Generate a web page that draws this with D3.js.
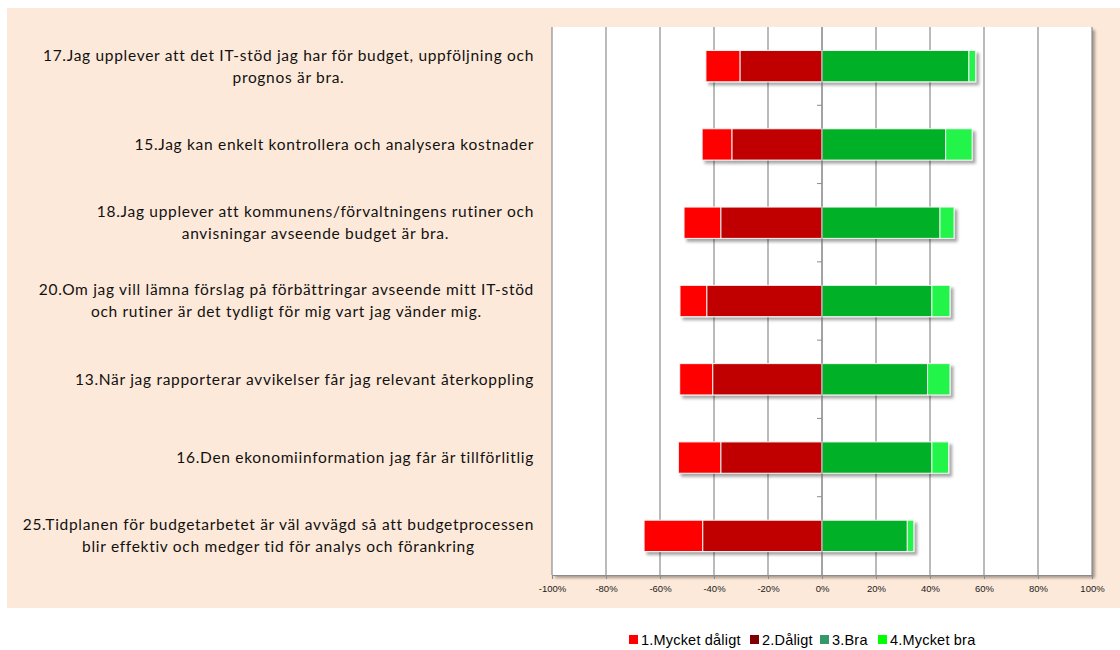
<!DOCTYPE html>
<html>
<head>
<meta charset="utf-8">
<script src="https://cdn.jsdelivr.net/npm/d3@7"></script>
<style>
  body { margin: 0; background: #fff; }
  svg { display: block; }
</style>
</head>
<body>
<script>
var width = 1120;
var height = 650;

// questions, top to bottom (lines as shown in the chart)
var categories = [
  ["17.Jag upplever att det IT-stöd jag har för budget, uppföljning och", "prognos är bra."],
  ["15.Jag kan enkelt kontrollera och analysera kostnader"],
  ["18.Jag upplever att kommunens/förvaltningens rutiner och", "anvisningar avseende budget är bra."],
  ["20.Om jag vill lämna förslag på förbättringar avseende mitt IT-stöd", "och rutiner är det tydligt för mig vart jag vänder mig."],
  ["13.När jag rapporterar avvikelser får jag relevant återkoppling"],
  ["16.Den ekonomiinformation jag får är tillförlitlig"],
  ["25.Tidplanen för budgetarbetet är väl avvägd så att budgetprocessen", "blir effektiv och medger tid för analys och förankring"]
];

var seriesNames = ["1.Mycket dåligt", "2.Dåligt", "3.Bra", "4.Mycket bra"];
var mycketDaligt = [12.6, 11.0, 13.6, 9.9, 12.2, 15.7, 21.7];
var daligt       = [30.4, 33.4, 37.5, 42.7, 40.5, 37.5, 44.2];
var bra          = [54.4, 45.8, 43.7, 40.7, 39.1, 40.7, 31.6];
var mycketBra    = [2.5, 9.8, 5.2, 6.7, 8.3, 6.2, 2.4];

var xTicks = [-100, -80, -60, -40, -20, 0, 20, 40, 60, 80, 100];

var barColors = ["#ff0000", "#c00000", "#06b025", "#22f44a"];
var legendColors = ["#ff0000", "#800000", "#339966", "#00ff00"];

var rows = categories.map(function(c, i) {
  return {
    id: i,
    lines: c,
    "1.Mycket dåligt": -mycketDaligt[i],
    "2.Dåligt": -daligt[i],
    "3.Bra": bra[i],
    "4.Mycket bra": mycketBra[i]
  };
});

var svg = d3.select("body").append("svg")
    .attr("width", width)
    .attr("height", height);

var defs = svg.append("defs");
var shadow = defs.append("filter").attr("id", "shadow")
    .attr("x", "-10%").attr("y", "-20%").attr("width", "130%").attr("height", "160%");
shadow.append("feDropShadow")
    .attr("dx", 3).attr("dy", 3).attr("stdDeviation", 1.6)
    .attr("flood-color", "#000").attr("flood-opacity", 0.35);

// peach background
svg.append("rect")
    .attr("x", 7).attr("y", 8)
    .attr("width", width - 7).attr("height", 600)
    .attr("fill", "#fde9d9");

var plot = {left: 552, right: 1092, top: 27, bottom: 575};

var x = d3.scaleLinear().domain([-100, 100]).range([plot.left, plot.right]);
var y = d3.scaleBand().domain(rows.map(function(d) { return d.id; }))
    .range([plot.top, plot.bottom])
    .paddingInner(0.6).paddingOuter(0.3);

// plot area with shadow
svg.append("rect")
    .attr("x", plot.left).attr("y", plot.top)
    .attr("width", plot.right - plot.left).attr("height", plot.bottom - plot.top)
    .attr("fill", "#fff")
    .attr("filter", "url(#shadow)");

// vertical gridlines
svg.append("g").selectAll("line")
    .data(xTicks)
  .enter().append("line")
    .attr("x1", function(d) { return x(d); })
    .attr("x2", function(d) { return x(d); })
    .attr("y1", plot.top).attr("y2", plot.bottom)
    .attr("stroke", "#8c8c8c")
    .attr("stroke-width", 1.2);

// bottom axis
var xAxis = d3.axisBottom(x)
    .tickValues(xTicks)
    .tickSize(4)
    .tickFormat(function(d) { return d + "%"; });

var gx = svg.append("g")
    .attr("transform", "translate(0," + plot.bottom + ")")
    .call(xAxis);
gx.select(".domain").attr("stroke", "#8c8c8c").attr("stroke-width", 1.2);
gx.selectAll(".tick line").attr("stroke", "#8c8c8c");
gx.selectAll(".tick text")
    .attr("y", 10)
    .attr("font-family", "Liberation Sans, Arial, sans-serif")
    .attr("font-size", 9.5)
    .attr("fill", "#1a1a1a");

// category ticks on the zero line
var step = y.step();
var bounds = d3.range(1, rows.length).map(function(k) { return plot.top + k * step; });
svg.append("g").selectAll("line")
    .data(bounds)
  .enter().append("line")
    .attr("x1", x(0) - 5).attr("x2", x(0))
    .attr("y1", function(d) { return d; })
    .attr("y2", function(d) { return d; })
    .attr("stroke", "#8c8c8c");

// stacked bars, negatives grow out from zero starting with "2.Dåligt"
var stackKeys = ["2.Dåligt", "1.Mycket dåligt", "3.Bra", "4.Mycket bra"];
var stacked = d3.stack().keys(stackKeys).offset(d3.stackOffsetDiverging)(rows);

var bars = svg.append("g").attr("filter", "url(#shadow)");
stacked.forEach(function(s) {
  var color = barColors[seriesNames.indexOf(s.key)];
  bars.selectAll(null)
      .data(s)
    .enter().append("rect")
      .attr("x", function(d) { return x(Math.min(d[0], d[1])); })
      .attr("width", function(d) { return Math.abs(x(d[1]) - x(d[0])); })
      .attr("y", function(d) { return y(d.data.id); })
      .attr("height", y.bandwidth())
      .attr("fill", color)
      .attr("stroke", "#f4f4f4")
      .attr("stroke-width", 1);
});

// zero line on top
svg.append("line")
    .attr("x1", x(0)).attr("x2", x(0))
    .attr("y1", plot.top).attr("y2", plot.bottom)
    .attr("stroke", "#8c8c8c").attr("stroke-width", 1);

// category labels: block right-aligned, lines centred in the block
var labelRight = 534;
var lineGap = 22;
var labels = svg.append("g")
    .attr("font-family", "Lato, 'Open Sans', sans-serif")
    .attr("font-size", 15.5)
    .attr("letter-spacing", 0.7)
    .attr("fill", "#111");

rows.forEach(function(r) {
  var cy = y(r.id) + y.bandwidth() / 2;
  var t = labels.append("text").attr("text-anchor", "middle");
  var n = r.lines.length;
  r.lines.forEach(function(line, j) {
    t.append("tspan")
        .attr("x", 0)
        .attr("y", cy + (j - (n - 1) / 2) * lineGap)
        .attr("dy", "0.35em")
        .text(line);
  });
  var w = d3.max(t.selectAll("tspan").nodes(), function(n) { return n.getComputedTextLength(); });
  t.attr("transform", "translate(" + (labelRight - w / 2) + ",0)");
});

// legend
var legendX = [629, 750, 820, 878];
var legend = svg.append("g")
    .attr("font-family", "Liberation Sans, Arial, sans-serif")
    .attr("font-size", 14.5)
    .attr("letter-spacing", 0.2)
    .attr("fill", "#000");
seriesNames.forEach(function(name, i) {
  legend.append("rect")
      .attr("x", legendX[i]).attr("y", 635)
      .attr("width", 9).attr("height", 9)
      .attr("fill", legendColors[i]);
  legend.append("text")
      .attr("x", legendX[i] + 12).attr("y", 645)
      .text(name);
});
</script>
</body>
</html>
